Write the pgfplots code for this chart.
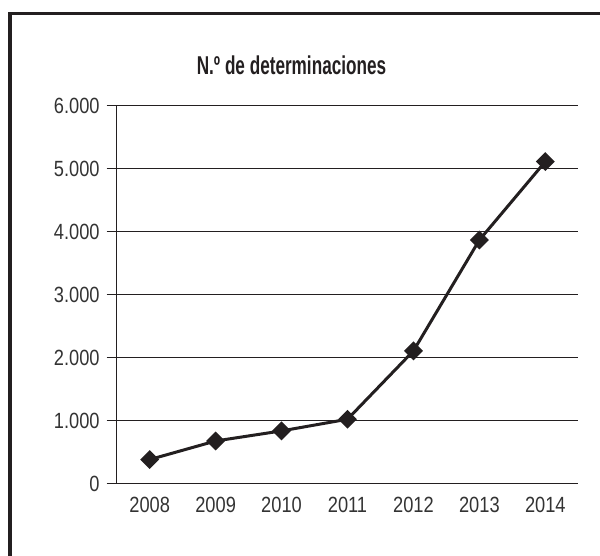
\documentclass[border=0pt]{standalone}
\usepackage{fontspec}
\setmainfont{Liberation Sans}
\newfontfamily\tickfont[FakeStretch=0.83]{Liberation Sans}
\newfontfamily\titlefont[FakeStretch=0.665]{Liberation Sans}
\usepackage{pgfplots}
\pgfplotsset{compat=1.18}
\definecolor{ink}{HTML}{231F20}
\definecolor{txt}{HTML}{333333}
\begin{document}
\begin{tikzpicture}
\useasboundingbox (0,0) rectangle (300pt,-278pt);
\draw[ink, line width=1.7pt] (5pt,-282pt) -- (5pt,-6.75pt) -- (303pt,-6.75pt);
\node[font=\titlefont\bfseries\fontsize{12.9}{15}\selectfont, text=ink] at (145.75pt,-32.5pt) {N.º de determinaciones};
\begin{axis}[
  at={(58.35pt,-241.75pt)}, anchor=south west,
  scale only axis, width=230.8pt, height=189pt,
  xmin=2007.5, xmax=2014.5, ymin=0, ymax=6000,
  axis x line=bottom, axis y line=left,
  axis line style={-, ink, line width=0.75pt},
  xtick={2008,2009,2010,2011,2012,2013,2014},
  xticklabels={2008,2009,2010,2011,2012,2013,2014},
  ytick={0,1000,2000,3000,4000,5000,6000},
  yticklabels={0,1.000,2.000,3.000,4.000,5.000,6.000},
  ymajorgrids, grid style={ink, line width=0.5pt},
  tick align=outside, major tick length=5pt,
  xtick style={draw=none},
  ytick style={ink, line width=0.5pt},
  tick label style={font=\tickfont\fontsize{11}{12}\selectfont, text=txt},
  xticklabel style={yshift=1.5pt},
  clip=false,
]
\addplot[ink, line width=1.5pt, mark=square*, mark size=2.6pt, mark options={rotate=45, solid, fill=ink}]
coordinates {(2008,380) (2009,675) (2010,835) (2011,1020) (2012,2105) (2013,3865) (2014,5110)};
\end{axis}
\end{tikzpicture}
\end{document}
